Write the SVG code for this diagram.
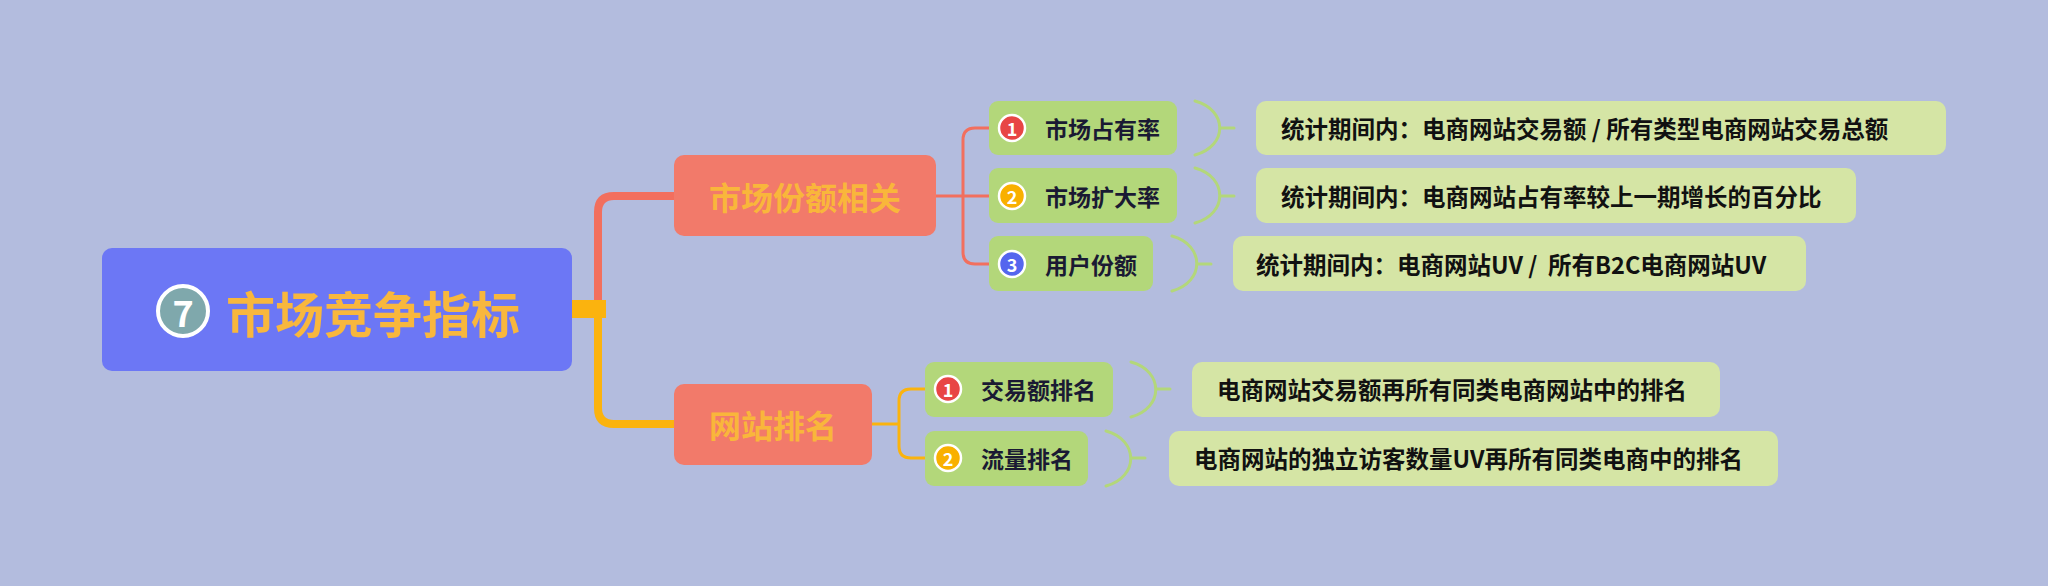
<svg xmlns="http://www.w3.org/2000/svg" width="2048" height="586" viewBox="0 0 2048 586">
<style>
text{font-family:"Noto Sans CJK SC","Noto Sans",sans-serif;font-weight:bold;dominant-baseline:central}
.br{fill:#f27a6a}
.bt{fill:#f9b63b;font-size:32px;text-anchor:middle}
.sub{fill:#b3d77a}
.st{fill:#1a1a33;font-size:23px}
.desc{fill:#d5e5a5}
.dt{fill:#111;font-size:23.5px}
.num{stroke:#fff;stroke-width:2.5}
.nt{fill:#fff;font-size:18px;text-anchor:middle}
.brace{fill:none;stroke:#b3d77a;stroke-width:3}
</style>
<rect width="2048" height="586" fill="#b3bcde"/>
<g id="connectors" fill="none" stroke-linecap="round">
<path d="M572,309 H598 V212 Q598,196 614,196 H674" stroke="#f26f5e" stroke-width="8"/>
<path d="M572,309 H598 V408 Q598,424 614,424 H674" stroke="#fbb30e" stroke-width="8"/>
<rect x="572" y="300" width="34" height="18" fill="#fbb30e" stroke="none"/>
<path d="M936,196 H963 M989,128 H975 Q963,128 963,140 V252 Q963,264 975,264 H989 M963,196 H989" stroke="#f26f5e" stroke-width="3"/>
<path d="M872,424 H899 M925,389 H911 Q899,389 899,401 V446 Q899,458 911,458 H925" stroke="#fbb30e" stroke-width="3"/>
<path class="brace" d="M1195,101 C1228,110 1228,146 1195,155 M1220,128 H1234"/>
<path class="brace" d="M1195,168 C1228,177 1228,214 1195,223 M1220,196 H1234"/>
<path class="brace" d="M1172,236 C1205,245 1205,282 1172,291 M1197,264 H1211"/>
<path class="brace" d="M1131,362 C1164,371 1164,408 1131,417 M1156,389 H1170"/>
<path class="brace" d="M1106,431 C1139,440 1139,477 1106,486 M1131,458 H1145"/>
</g>
<g id="root">
<rect x="102" y="248" width="470" height="123" rx="10" fill="#6c77f5"/>
<circle cx="183" cy="311" r="25" fill="#7fa8ac" stroke="#fff" stroke-width="4"/>
<text x="183" y="311" fill="#fff" font-size="36" text-anchor="middle">7</text>
<text x="226" y="311" fill="#f8b73d" font-size="49">市场竞争指标</text>
</g>
<g id="b1"><rect class="br" x="674" y="155" width="262" height="81" rx="10"/><text class="bt" x="805" y="196">市场份额相关</text></g>
<g id="b2"><rect class="br" x="674" y="384" width="198" height="81" rx="10"/><text class="bt" x="773" y="424">网站排名</text></g>
<g id="s1"><rect class="sub" x="989" y="101" width="188" height="54" rx="9"/><circle class="num" cx="1012" cy="128" r="13" fill="#e84545"/><text class="nt" x="1012" y="128">1</text><text class="st" x="1045" y="128">市场占有率</text></g>
<g id="s2"><rect class="sub" x="989" y="168" width="188" height="55" rx="9"/><circle class="num" cx="1012" cy="196" r="13" fill="#f9b000"/><text class="nt" x="1012" y="196">2</text><text class="st" x="1045" y="196">市场扩大率</text></g>
<g id="s3"><rect class="sub" x="989" y="236" width="164" height="55" rx="9"/><circle class="num" cx="1012" cy="264" r="13" fill="#5566ee"/><text class="nt" x="1012" y="264">3</text><text class="st" x="1045" y="264">用户份额</text></g>
<g id="s4"><rect class="sub" x="925" y="362" width="188" height="55" rx="9"/><circle class="num" cx="948" cy="389" r="13" fill="#e84545"/><text class="nt" x="948" y="389">1</text><text class="st" x="981" y="389">交易额排名</text></g>
<g id="s5"><rect class="sub" x="925" y="431" width="163" height="55" rx="9"/><circle class="num" cx="948" cy="458" r="13" fill="#f9b000"/><text class="nt" x="948" y="458">2</text><text class="st" x="981" y="458">流量排名</text></g>
<g id="d1"><rect class="desc" x="1256" y="101" width="690" height="54" rx="10"/><text class="dt" x="1281" y="128">统计期间内：电商网站交易额 / 所有类型电商网站交易总额</text></g>
<g id="d2"><rect class="desc" x="1256" y="168" width="600" height="55" rx="10"/><text class="dt" x="1281" y="196">统计期间内：电商网站占有率较上一期增长的百分比</text></g>
<g id="d3"><rect class="desc" x="1233" y="236" width="573" height="55" rx="10"/><text class="dt" x="1256" y="264">统计期间内：电商网站UV /&#160; 所有B2C电商网站UV</text></g>
<g id="d4"><rect class="desc" x="1192" y="362" width="528" height="55" rx="10"/><text class="dt" x="1217" y="389">电商网站交易额再所有同类电商网站中的排名</text></g>
<g id="d5"><rect class="desc" x="1169" y="431" width="609" height="55" rx="10"/><text class="dt" x="1194" y="458">电商网站的独立访客数量UV再所有同类电商中的排名</text></g>
</svg>
